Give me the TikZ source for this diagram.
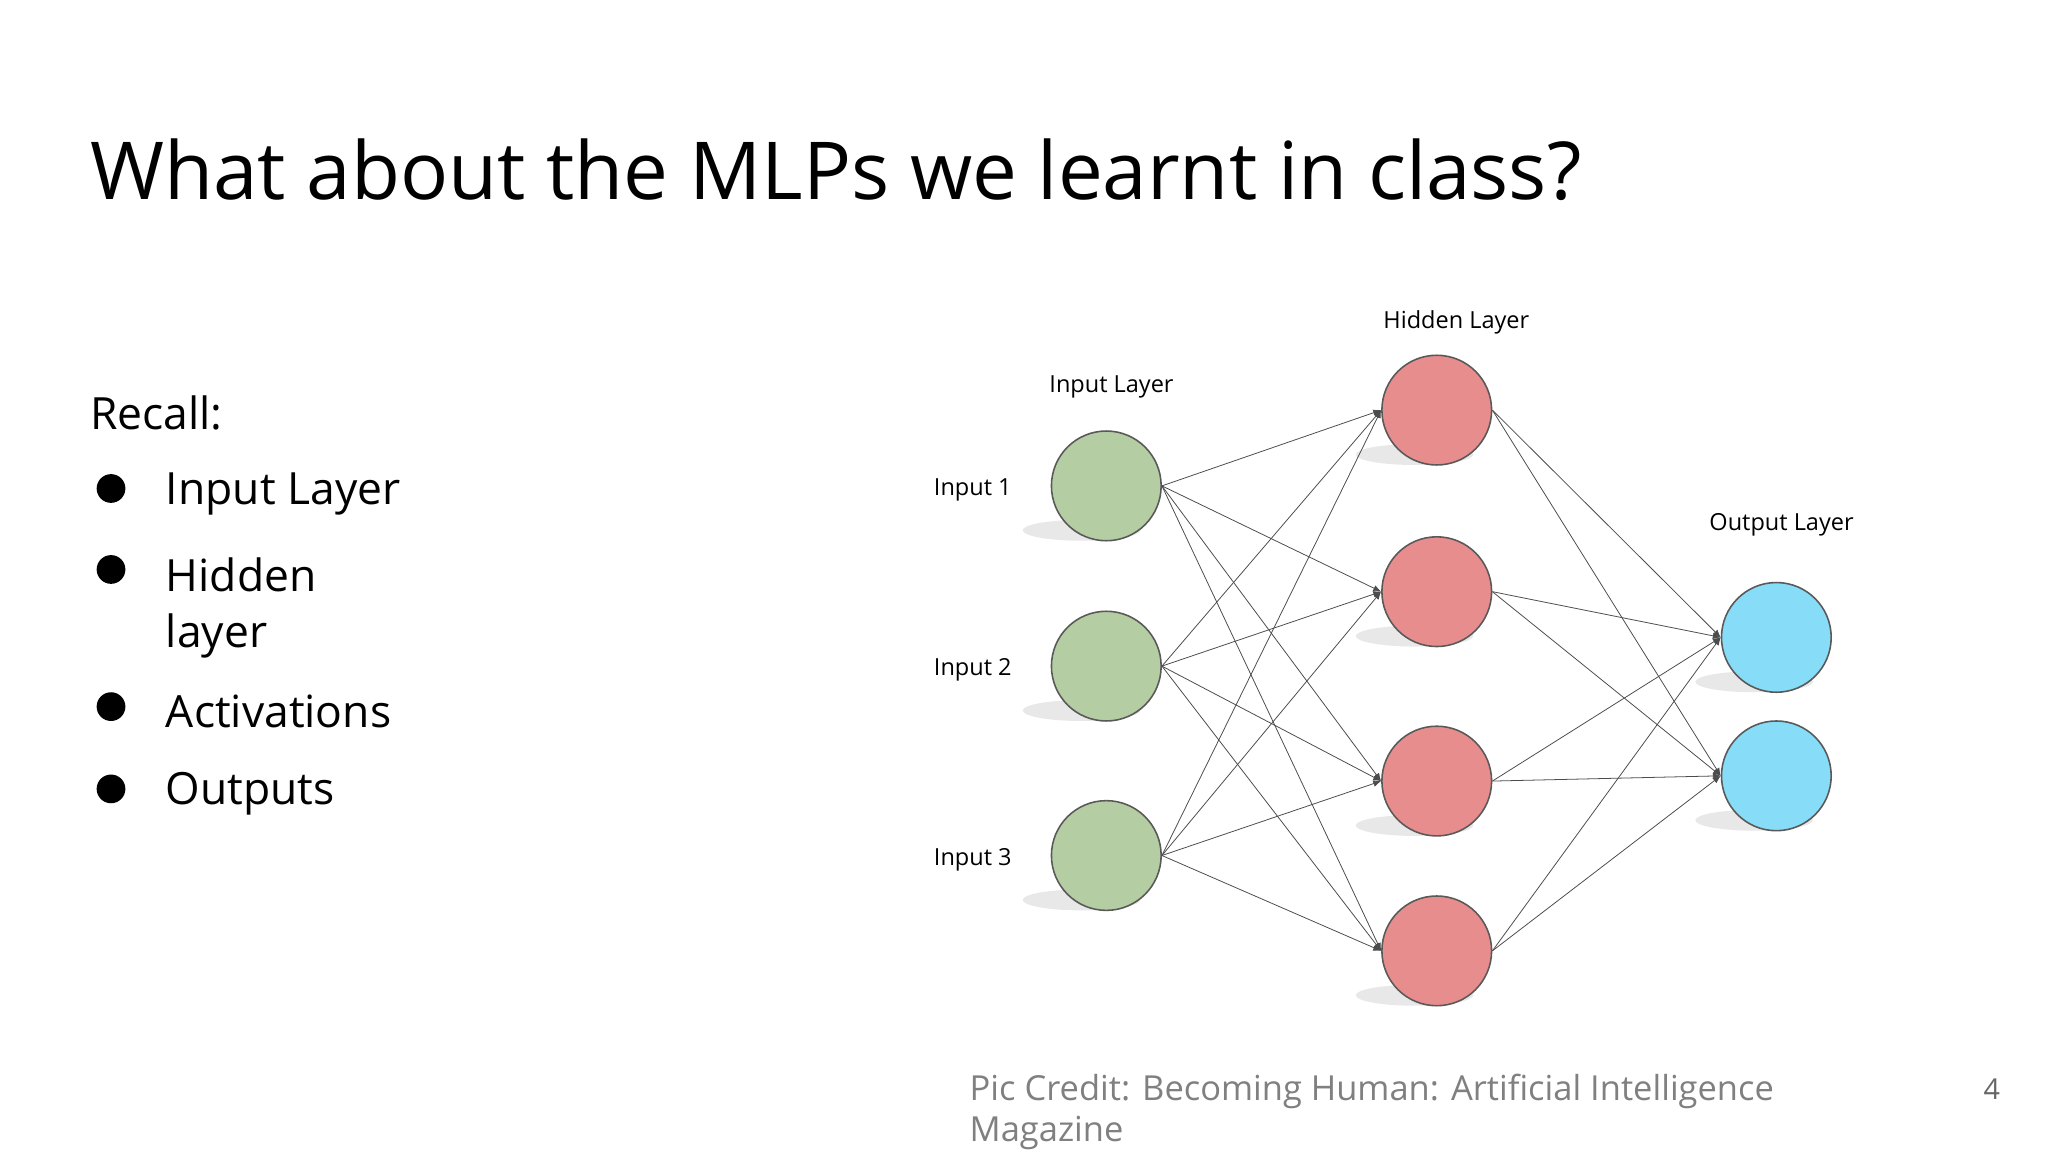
\documentclass[tikz,border=0pt]{standalone}
\usepackage{fontspec}
\setmainfont{Open Sans}
\begin{document}
\begin{tikzpicture}[x=0.5pt,y=-0.5pt,
  neu/.style={circle,draw=black!65,line width=0.6pt,minimum size=42pt,inner sep=0pt},
  inn/.style={neu,fill={rgb,255:red,181;green,205;blue,163}},
  hid/.style={neu,fill={rgb,255:red,232;green,141;blue,141}},
  outn/.style={neu,fill={rgb,255:red,135;green,221;blue,247}},
  edge/.style={black!70,line width=0.3pt,-{Latex[length=3pt,width=2.5pt]}},
  lbl/.style={font=\fontsize{9}{11}\selectfont},
  body/.style={font=\fontsize{17}{21.5}\selectfont,anchor=west}]
\usetikzlibrary{arrows.meta}
\fill[white] (0,0) rectangle (1568,882);
\node[anchor=west,font=\fontsize{30.6}{36}\selectfont] (title) at (62,130) {What about the MLPs we learnt in class?};
\node[body] (recall) at (62,316) {Recall:};
\foreach \y/\t/\n in {378/Input Layer/b1,545/Activations/b3,608/Outputs/b4}{
  \fill (85,\y-4) circle (11);
  \node[body] (\n) at (120,\y) {\t};}
\fill (85,436) circle (11);
\node[body,anchor=north west,align=left] (b2) at (120,420) {Hidden\\layer};
\foreach \i/\y in {1/372,2/510,3/655}{
  \fill[black!9] (828,\y+34) ellipse (45 and 8);
  \node[inn] (i\i) at (847,\y) {};
  \node[lbl,anchor=west] (li\i) at (708,\y+3) {Input \i};}
\foreach \i/\y in {1/314,2/453,3/598,4/728}{
  \fill[black!9] (1083,\y+34) ellipse (45 and 8);
  \node[hid] (h\i) at (1100,\y) {};}
\foreach \i/\y in {1/488,2/594}{
  \fill[black!9] (1343,\y+34) ellipse (45 and 8);
  \node[outn] (o\i) at (1360,\y) {};}
\foreach \a in {1,2,3}\foreach \b in {1,2,3,4}{\draw[edge] (i\a.east) -- (h\b.west);}
\foreach \a in {1,2,3,4}\foreach \b in {1,2}{\draw[edge] (h\a.east) -- (o\b.west);}
\node[lbl] (lin) at (851,296) {Input Layer};
\node[lbl] (lhid) at (1115,247) {Hidden Layer};
\node[lbl] (lout) at (1364,402) {Output Layer};
\node[anchor=north west,align=left,text=black!50,font=\fontsize{13.2}{15.5}\selectfont,inner sep=0pt] (credit) at (742,822) {Pic Credit: Becoming Human: Artificial Intelligence\\Magazine};
\node[text=black!60,font=\fontsize{11}{13}\selectfont] (pg) at (1525,834) {4};
\end{tikzpicture}
\end{document}
